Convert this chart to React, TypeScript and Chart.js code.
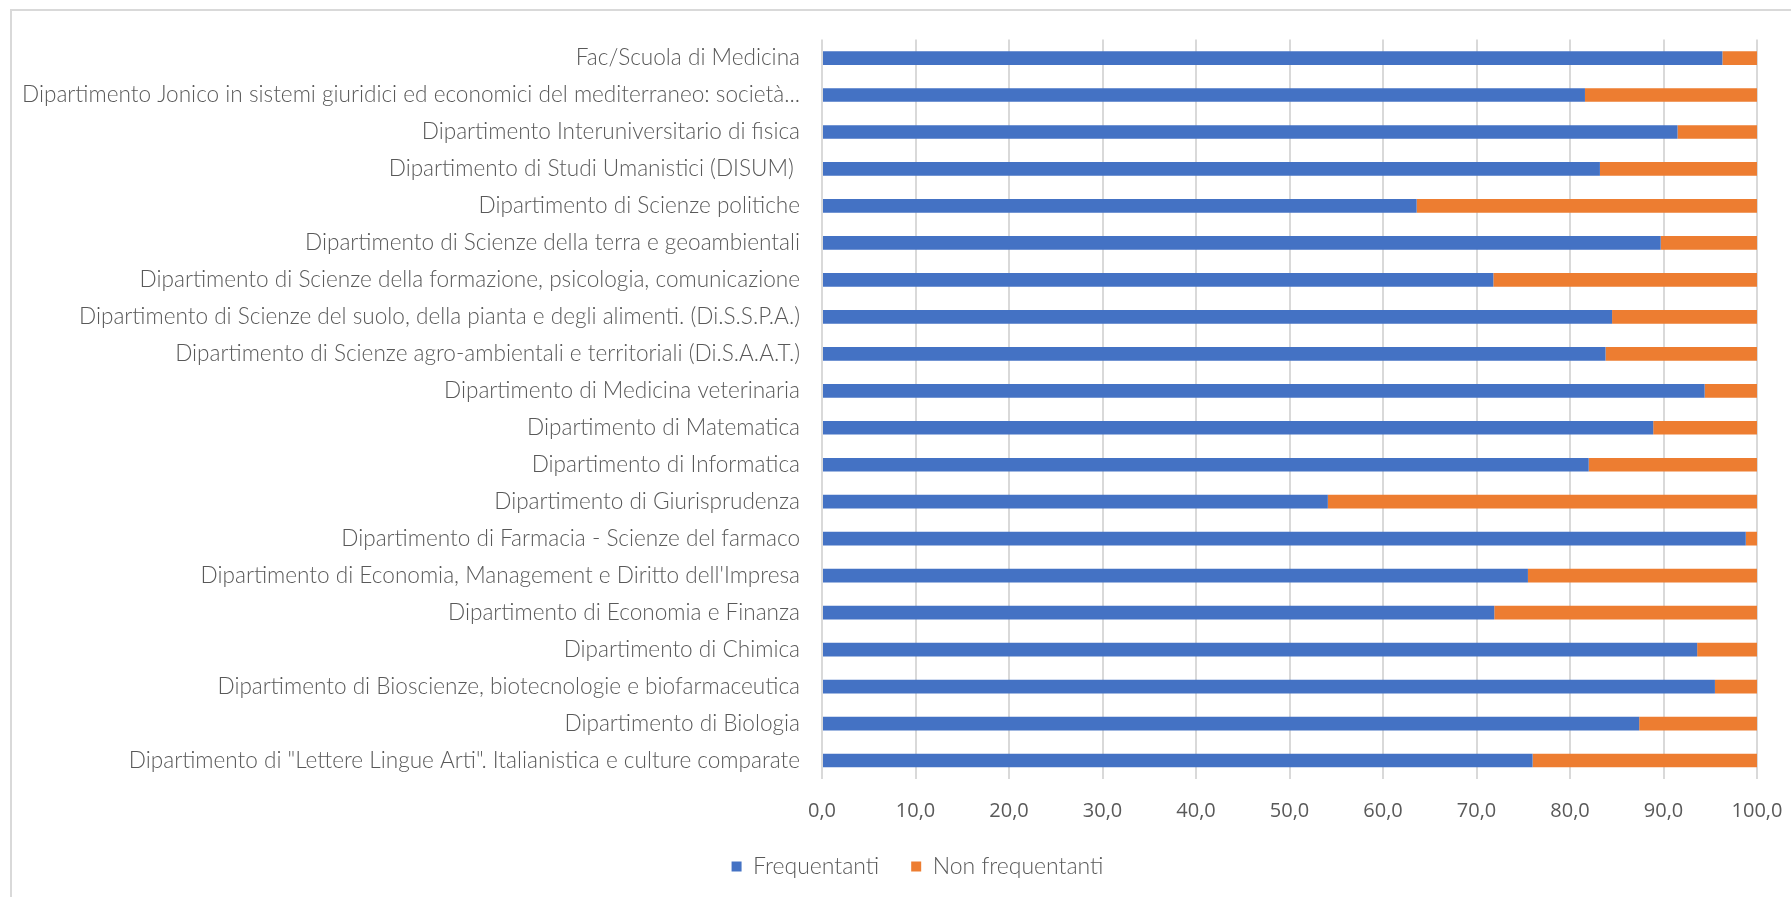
import React, { useEffect, useRef } from "react";
import { Chart, registerables } from "chart.js";

Chart.register(...registerables);

const categories = [
  "Fac/Scuola di Medicina",
  "Dipartimento Jonico in sistemi giuridici ed economici del mediterraneo: società...",
  "Dipartimento Interuniversitario di fisica",
  "Dipartimento di Studi Umanistici (DISUM) ",
  "Dipartimento di Scienze politiche",
  "Dipartimento di Scienze della terra e geoambientali",
  "Dipartimento di Scienze della formazione, psicologia, comunicazione",
  "Dipartimento di Scienze del suolo, della pianta e degli alimenti. (Di.S.S.P.A.)",
  "Dipartimento di Scienze agro-ambientali e territoriali (Di.S.A.A.T.)",
  "Dipartimento di Medicina veterinaria",
  "Dipartimento di Matematica",
  "Dipartimento di Informatica",
  "Dipartimento di Giurisprudenza",
  "Dipartimento di Farmacia - Scienze del farmaco",
  "Dipartimento di Economia, Management e Diritto dell'Impresa",
  "Dipartimento di Economia e Finanza",
  "Dipartimento di Chimica",
  "Dipartimento di Bioscienze, biotecnologie e biofarmaceutica",
  "Dipartimento di Biologia",
  "Dipartimento di \"Lettere Lingue Arti\". Italianistica e culture comparate",
];

const frequentanti = [
  96.3, 81.6, 91.5, 83.2, 63.6, 89.7, 71.8, 84.5, 83.8, 94.4,
  88.9, 82.0, 54.1, 98.8, 75.5, 71.9, 93.6, 95.5, 87.4, 76.0,
];

const nonFrequentanti = [
  3.7, 18.4, 8.5, 16.8, 36.4, 10.3, 28.2, 15.5, 16.2, 5.6,
  11.1, 18.0, 45.9, 1.2, 24.5, 28.1, 6.4, 4.5, 12.6, 24.0,
];

const seriesNames = ["Frequentanti", "Non frequentanti"];
const xTickLabels = ["0,0", "10,0", "20,0", "30,0", "40,0", "50,0", "60,0", "70,0", "80,0", "90,0", "100,0"];

const FONT_FAMILY = "Lato, 'Liberation Sans', sans-serif";
const NUM_FONT_FAMILY = "'Open Sans', Lato, sans-serif";
const TEXT_COLOR = "#595959";
const GRID_COLOR = "#d9d9d9";

export default function App() {
  const canvasRef = useRef<HTMLCanvasElement | null>(null);

  useEffect(() => {
    document.body.style.overflow = "hidden";
    const canvas = canvasRef.current;
    if (!canvas) return;
    const chart = new Chart(canvas, {
      type: "bar",
      data: {
        labels: categories,
        datasets: [
          {
            label: seriesNames[0],
            data: frequentanti,
            backgroundColor: "#4472C4",
            borderWidth: 0,
            barPercentage: 0.37,
            categoryPercentage: 1,
          },
          {
            label: seriesNames[1],
            data: nonFrequentanti,
            backgroundColor: "#ED7D31",
            borderWidth: 0,
            barPercentage: 0.37,
            categoryPercentage: 1,
          },
        ],
      },
      options: {
        indexAxis: "y",
        responsive: false,
        animation: false,
        devicePixelRatio: 1,
        layout: { padding: { top: 0, left: 0, right: 0, bottom: 16 } },
        plugins: {
          tooltip: { enabled: false },
          legend: {
            position: "bottom",
            labels: {
              boxWidth: 10,
              boxHeight: 10,
              padding: 32,
              color: TEXT_COLOR,
              font: { family: FONT_FAMILY, size: 23, weight: "300" as any },
            },
          },
        },
        scales: {
          x: {
            stacked: true,
            min: 0,
            max: 100,
            ticks: {
              stepSize: 10,
              padding: 20,
              color: TEXT_COLOR,
              font: { family: NUM_FONT_FAMILY, size: 20, weight: "normal" as any },
              maxRotation: 0,
              callback: (_v: any, i: number) => xTickLabels[i],
            },
            grid: { color: GRID_COLOR, lineWidth: 2, drawTicks: false },
            border: { display: false },
            afterFit: (s: any) => {
              s.height = 44;
            },
          },
          y: {
            stacked: true,
            ticks: {
              autoSkip: false,
              padding: 22,
              color: TEXT_COLOR,
              font: { family: FONT_FAMILY, size: 22.6, weight: "300" as any },
            },
            grid: { display: false, drawTicks: false },
            border: { display: false },
            afterFit: (s: any) => {
              s.width = 810;
            },
          },
          yRightSpace: {
            type: "category",
            position: "right",
            display: true,
            ticks: { display: false },
            grid: { display: false, drawTicks: false },
            border: { display: false },
            afterFit: (s: any) => {
              s.width = 66;
            },
          },
        },
      },
    });
    return () => chart.destroy();
  }, []);

  return (
    <div>
      <div
        style={{
          position: "fixed",
          left: 10,
          top: 9,
          width: 1900,
          height: 1000,
          borderTop: "2px solid #d9d9d9",
          borderLeft: "2px solid #d9d9d9",
          background: "#ffffff",
        }}
      />
      <canvas
        ref={canvasRef}
        width={1811}
        height={900}
        style={{ position: "fixed", left: 12, top: 4, display: "block" }}
      />
    </div>
  );
}
